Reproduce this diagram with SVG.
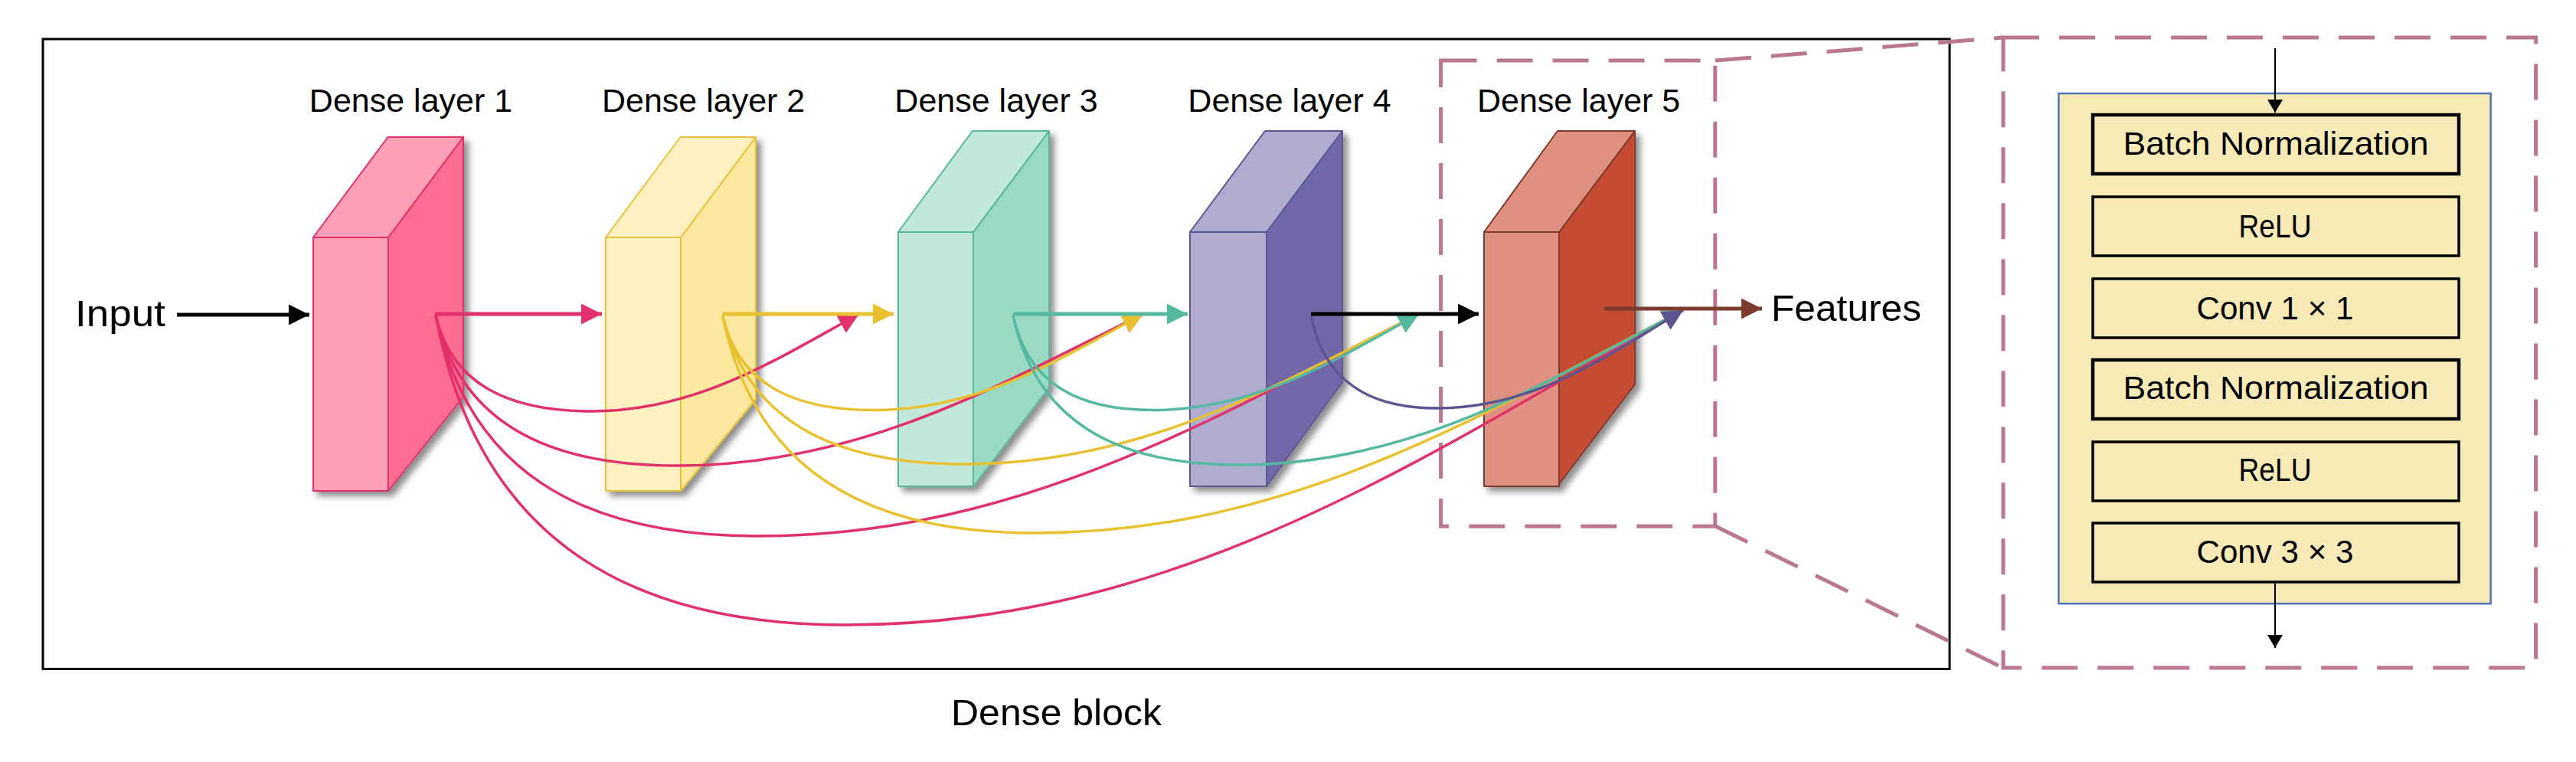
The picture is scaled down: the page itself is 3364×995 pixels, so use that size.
<svg xmlns="http://www.w3.org/2000/svg" width="3364" height="995" viewBox="0 0 3364 995">
<style>
  text { font-family: "Liberation Sans", Arial, sans-serif; fill: #000; }
  .lname { font-size: 43px; text-anchor: middle; }
  .big { font-size: 49px; }
  .op { font-size: 42px; text-anchor: middle; }
  .dash { fill: none; stroke: #B9788F; stroke-width: 5; stroke-dasharray: 47 26; }
  .opbox { fill: #F8EAB6; stroke: #000; stroke-width: 3.5; }
  .opbox.bn { stroke-width: 4.5; }
  .main { fill: none; stroke-width: 5; }
  .skip { fill: none; stroke-width: 3.5; }
  .pk { stroke: #E2306B; }
  .yl { stroke: #E8C030; }
  .tl { stroke: #55B8A0; }
  .pu { stroke: #5C5590; }
  .bk { stroke: #000; }
  .br { stroke: #7B3B2F; }
</style>
<defs>
  <filter id="sh" x="-20%" y="-10%" width="160%" height="130%">
    <feDropShadow dx="6" dy="6" stdDeviation="4" flood-color="#000" flood-opacity="0.45"/>
  </filter>
  <marker id="hPk" viewBox="0 0 27 27" refX="27" refY="13.5" markerWidth="27" markerHeight="27" markerUnits="userSpaceOnUse" orient="auto"><path d="M0,0 L27,13.5 L0,27 z" fill="#E2306B"/></marker>
  <marker id="hYl" viewBox="0 0 27 27" refX="27" refY="13.5" markerWidth="27" markerHeight="27" markerUnits="userSpaceOnUse" orient="auto"><path d="M0,0 L27,13.5 L0,27 z" fill="#E8C030"/></marker>
  <marker id="hTl" viewBox="0 0 27 27" refX="27" refY="13.5" markerWidth="27" markerHeight="27" markerUnits="userSpaceOnUse" orient="auto"><path d="M0,0 L27,13.5 L0,27 z" fill="#55B8A0"/></marker>
  <marker id="hPu" viewBox="0 0 27 27" refX="27" refY="13.5" markerWidth="27" markerHeight="27" markerUnits="userSpaceOnUse" orient="auto"><path d="M0,0 L27,13.5 L0,27 z" fill="#5C5590"/></marker>
  <marker id="hBk" viewBox="0 0 27 27" refX="27" refY="13.5" markerWidth="27" markerHeight="27" markerUnits="userSpaceOnUse" orient="auto"><path d="M0,0 L27,13.5 L0,27 z" fill="#000"/></marker>
  <marker id="hBr" viewBox="0 0 27 27" refX="27" refY="13.5" markerWidth="27" markerHeight="27" markerUnits="userSpaceOnUse" orient="auto"><path d="M0,0 L27,13.5 L0,27 z" fill="#7B3B2F"/></marker>
  <marker id="hSm" viewBox="0 0 17 20" refX="17" refY="10" markerWidth="17" markerHeight="20" markerUnits="userSpaceOnUse" orient="auto"><path d="M0,0 L17,10 L0,20 z" fill="#000"/></marker>
</defs>

<rect x="0" y="0" width="3364" height="995" fill="#fff"/>

<!-- Dense block frame -->
<g id="dense-block">
  <rect x="56" y="51" width="2490" height="822.5" fill="none" stroke="#000" stroke-width="3"/>
  <text x="1379.5" y="946.5" class="big" text-anchor="middle" font-size="48" textLength="275" lengthAdjust="spacingAndGlyphs">Dense block</text>
</g>

<!-- Zoom region around layer 5 -->
<g id="zoom-region">
  <rect class="dash" x="1881.6" y="79" width="358.2" height="608.3" stroke-width="4"/>
</g>

<!-- Layers -->
<g id="layer1">
  <g filter="url(#sh)" stroke="#E2306B" stroke-width="2" stroke-linejoin="round">
    <polygon points="507,310 605,179 605,518 507,641" fill="#FF6D93"/>
    <polygon points="409,310 506.5,179 605,179 507,310" fill="#FDA0B7"/>
    <rect x="409" y="310" width="98" height="331" fill="#FDA0B7"/>
  </g>
  <text class="lname" x="536.5" y="146">Dense layer 1</text>
</g>
<g id="layer2">
  <g filter="url(#sh)" stroke="#E8C23A" stroke-width="2" stroke-linejoin="round">
    <polygon points="889,310 987,179 987,521 889,641" fill="#FDE8A0"/>
    <polygon points="791,310 888.5,179 987,179 889,310" fill="#FFF0C2"/>
    <rect x="791" y="310" width="98" height="331" fill="#FFF0C2"/>
  </g>
  <text class="lname" x="918.6" y="146">Dense layer 2</text>
</g>
<g id="layer3">
  <g filter="url(#sh)" stroke="#58B89D" stroke-width="2" stroke-linejoin="round">
    <polygon points="1271,303 1370,171 1370,506 1271,635" fill="#9AD9C2"/>
    <polygon points="1173,303 1270,171 1370,171 1271,303" fill="#C1E8DA"/>
    <rect x="1173" y="303" width="98" height="332" fill="#C1E8DA"/>
  </g>
  <text class="lname" x="1301" y="146">Dense layer 3</text>
</g>
<g id="layer4">
  <g filter="url(#sh)" stroke="#5C5892" stroke-width="2" stroke-linejoin="round">
    <polygon points="1654,303 1753,171 1753,499 1654,635" fill="#6F68A8"/>
    <polygon points="1554,303 1652,171 1753,171 1654,303" fill="#AFACD0"/>
    <rect x="1554" y="303" width="100" height="332" fill="#AFACD0"/>
  </g>
  <text class="lname" x="1684" y="146">Dense layer 4</text>
</g>
<g id="layer5">
  <g filter="url(#sh)" stroke="#7B3A2E" stroke-width="2" stroke-linejoin="round">
    <polygon points="2036,303 2135,171 2135,502 2036,632" fill="#C54B31"/>
    <polygon points="1938,303 2034,171 2135,171 2036,303" fill="#DF9080"/>
    <rect x="1938" y="303" width="98" height="332" fill="#DF9080"/>
  </g>
  <text class="lname" x="2061.6" y="146">Dense layer 5</text>
</g>

<g id="input-label"><text class="big" x="98" y="426" font-size="48" textLength="118" lengthAdjust="spacingAndGlyphs">Input</text></g>
<g id="features-label"><text class="big" x="2313" y="419" textLength="196" lengthAdjust="spacingAndGlyphs">Features</text></g>

<!-- Detail panel -->
<g id="detail-frame">
  <rect class="dash" x="2616" y="49" width="695.6" height="823"/>
  <rect x="2688.4" y="122" width="564.2" height="666.2" fill="#F8EAB6" stroke="#4C74B6" stroke-width="2.5"/>
</g>
<g id="op-bn1">
  <rect class="opbox bn" x="2733" y="150" width="478" height="77"/>
  <text class="op" x="2972" y="202" textLength="399" lengthAdjust="spacingAndGlyphs">Batch Normalization</text>
</g>
<g id="op-relu1">
  <rect class="opbox" x="2733" y="257" width="478" height="77"/>
  <text class="op" x="2971" y="310" textLength="95" lengthAdjust="spacingAndGlyphs">ReLU</text>
</g>
<g id="op-conv1">
  <rect class="opbox" x="2733" y="364" width="478" height="77"/>
  <text class="op" x="2971" y="417" textLength="205" lengthAdjust="spacingAndGlyphs">Conv 1 × 1</text>
</g>
<g id="op-bn2">
  <rect class="opbox bn" x="2733" y="470" width="478" height="77"/>
  <text class="op" x="2972" y="521" textLength="399" lengthAdjust="spacingAndGlyphs">Batch Normalization</text>
</g>
<g id="op-relu2">
  <rect class="opbox" x="2733" y="577" width="478" height="77"/>
  <text class="op" x="2971" y="628" textLength="95" lengthAdjust="spacingAndGlyphs">ReLU</text>
</g>
<g id="op-conv3">
  <rect class="opbox" x="2733" y="683" width="478" height="77"/>
  <text class="op" x="2971" y="735" textLength="205" lengthAdjust="spacingAndGlyphs">Conv 3 × 3</text>
</g>

<!-- Connectors -->
<g id="connectors">
  <!-- skip connections from layer 1 -->
  <path class="skip pk" marker-end="url(#hPk)" d="M569,412 C589.3,499.5 660.4,537 772,537 C912,537 1017,467.2 1122,410"/>
  <path class="skip pk" marker-end="url(#hPk)" d="M569,412 C600.5,549.2 710.8,608 884,608 C1127.6,608 1310.3,499.1 1493,410"/>
  <path class="skip pk" marker-end="url(#hPk)" d="M569,412 C611,613.6 758,700 989,700 C1334.6,700 1593.8,540.5 1853,410"/>
  <path class="skip pk" marker-end="url(#hPk)" d="M569,412 C622.6,694.8 810.2,816 1105,816 C1542.2,816 1870.1,590 2198,405"/>
  <!-- from layer 2 -->
  <path class="skip yl" marker-end="url(#hYl)" d="M943.5,412 C963.2,498.5 1031.9,535.5 1140,535.5 C1281.2,535.5 1387.1,466.5 1493,410"/>
  <path class="skip yl" marker-end="url(#hYl)" d="M943.5,412 C975.2,547.8 1085.9,606 1260,606 C1497.2,606 1675.1,498.2 1853,410"/>
  <path class="skip yl" marker-end="url(#hYl)" d="M943.5,412 C984.3,610.8 1126.9,696 1351,696 C1689.8,696 1943.9,536 2198,405"/>
  <!-- from layer 3 -->
  <path class="skip tl" marker-end="url(#hTl)" d="M1323,412 C1341.2,498.5 1404.9,535.5 1505,535.5 C1644.2,535.5 1748.6,466.5 1853,410"/>
  <path class="skip tl" marker-end="url(#hTl)" d="M1323,412 C1352.4,548.5 1455.3,607 1617,607 C1849.4,607 2023.7,495.9 2198,405"/>
  <!-- from layer 4 -->
  <path class="skip pu" marker-end="url(#hPu)" d="M1712,412 C1728.5,496.7 1786.3,533 1877,533 C2005.4,533 2101.7,462.6 2198,405"/>

  <!-- main sequential arrows -->
  <path class="main bk" stroke-width="3.5" marker-end="url(#hBk)" d="M231,411 L404,411"/>
  <path class="main pk" marker-end="url(#hPk)" d="M568,410 L786,410"/>
  <path class="main yl" marker-end="url(#hYl)" d="M943.5,410 L1167,410"/>
  <path class="main tl" marker-end="url(#hTl)" d="M1322.7,410 L1551,410"/>
  <path class="main bk" marker-end="url(#hBk)" d="M1712,410 L1931,410"/>
  <path class="main br" stroke-width="3" marker-end="url(#hBr)" d="M2095,403 L2301,403"/>

  <!-- zoom lines -->
  <line class="dash" x1="2240" y1="79" x2="2616" y2="49"/>
  <line class="dash" x1="2240" y1="687" x2="2616" y2="872"/>

  <!-- detail panel arrows -->
  <line x1="2971" y1="63" x2="2971" y2="147" stroke="#000" stroke-width="2" marker-end="url(#hSm)"/>
  <line x1="2971" y1="762" x2="2971" y2="846" stroke="#000" stroke-width="2" marker-end="url(#hSm)"/>
</g>
</svg>
